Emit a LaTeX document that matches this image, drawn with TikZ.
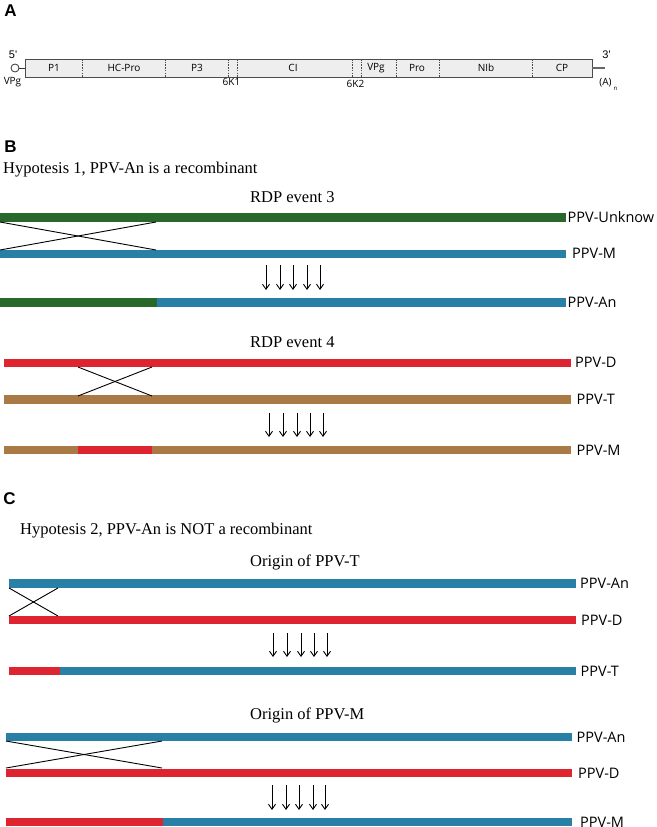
\documentclass[tikz,border=0pt]{standalone}
\usepackage{fontspec}
\setmainfont{Liberation Serif}
\newfontfamily\labfont{Open Sans}
\newfontfamily\panfont{Liberation Sans}
\usetikzlibrary{arrows.meta}

\definecolor{ppvgreen}{RGB}{40,104,42}
\definecolor{ppvblue}{RGB}{41,128,166}
\definecolor{ppvred}{RGB}{222,36,48}
\definecolor{ppvbrown}{RGB}{170,122,70}
\definecolor{genefill}{RGB}{238,238,238}

\tikzset{
  panel/.style={font=\panfont\bfseries\fontsize{17}{19}\selectfont,inner sep=0},
  gene/.style={font=\labfont\fontsize{10}{12}\selectfont,inner sep=0},
  title/.style={font=\fontsize{16.5}{19}\selectfont,anchor=west,inner sep=0},
  seqlab/.style={font=\labfont\fontsize{14.5}{17}\selectfont,anchor=west,inner sep=0},
  seq/.style={line width=8.5pt},
  xover/.style={draw=black,line width=0.9pt},
  down/.style={->,>={Straight Barb[length=5pt,width=7pt]},line width=0.9pt}
}

\begin{document}
\begin{tikzpicture}[x=1pt,y=-1pt]
\useasboundingbox (0,0) rectangle (656,827);

% A: genome map
\node (letA) at (10.5,11) [panel] {A};
\node (genome) at (308.5,68) [rectangle,draw=black!70,fill=genefill,line width=0.8pt,
    minimum width=567pt,minimum height=18pt,inner sep=0] {};
\foreach \x in {82,165,228,237,352,361,396,439,532}
    \draw [black!70,dash pattern=on 1.5pt off 1.2pt,line width=0.7pt] (\x,59) -- (\x,77);
\foreach \x/\name in {54/P1,124/HC-Pro,197/P3,293/CI,376/VPg,417/Pro,486/NIb,562/CP}
    \node (g-\name) at (\x,68) [gene] {\name};
\node (vpgcirc) at (15,68) [circle,draw=black!80,line width=0.8pt,minimum size=8pt,inner sep=0] {};
\draw [black!80,line width=1pt] (vpgcirc) -- (genome.west);
\coordinate (tailend) at (605,68);
\draw [black!60,line width=2.5pt] (genome.east) -- (tailend);
\node (five) at (13,55) [gene,font=\panfont\fontsize{11}{13}\selectfont] {5'};
\node (vpg) at (12.5,82) [gene] {VPg};
\node (k1) at (231.5,82) [gene] {6K1};
\node (k2) at (355.5,84) [gene] {6K2};
\node (three) at (606.5,55) [gene,font=\panfont\fontsize{11}{13}\selectfont] {3'};
\node (polyA) at (605.5,83) [gene] {(A)};
\node (polyn) at (615.5,88.5) [gene,font=\labfont\fontsize{6}{7}\selectfont] {n};

% B: hypothesis 1
\node (letB) at (10.5,146.5) [panel] {B};
\node (hyp1) at (3,170) [title] {Hypotesis 1, PPV-An is a recombinant};

\node (ev3) at (250,197) [title] {RDP event 3};
\draw [seq,ppvgreen] (0,217.5) -- (566,217.5);
\draw [seq,ppvblue] (0,254) -- (566,254);
\draw [xover] (0,222) -- (156,250);
\draw [xover] (0,250) -- (156,222);
\foreach \x in {266,280,293,307,320}
    \draw [down] (\x,265) -- (\x,290);
\draw [seq,ppvgreen] (0,302.5) -- (157,302.5);
\draw [seq,ppvblue] (157,302.5) -- (566,302.5);
\node (unk) at (567.5,217) [seqlab] {PPV-Unknow};
\node (m1) at (572,253) [seqlab] {PPV-M};
\node (an1) at (567.5,302) [seqlab] {PPV-An};

\node (ev4) at (250,342.5) [title] {RDP event 4};
\draw [seq,ppvred] (4,363) -- (571,363);
\draw [seq,ppvbrown] (4,399.5) -- (571,399.5);
\draw [xover] (78,367) -- (152,396);
\draw [xover] (78,396) -- (152,367);
\foreach \x in {269,283,297,310,323}
    \draw [down] (\x,413) -- (\x,437);
\draw [seq,ppvbrown] (4,450) -- (78,450);
\draw [seq,ppvred] (78,450) -- (152,450);
\draw [seq,ppvbrown] (152,450) -- (571,450);
\node (d1) at (575,362) [seqlab] {PPV-D};
\node (t1) at (576.5,399) [seqlab] {PPV-T};
\node (m2) at (576.5,450) [seqlab] {PPV-M};

% C: hypothesis 2
\node (letC) at (9.5,499) [panel] {C};
\node (hyp2) at (20,531) [title] {Hypotesis 2, PPV-An is NOT a recombinant};

\node (orT) at (250,562) [title] {Origin of PPV-T};
\draw [seq,ppvblue] (9,583.5) -- (576,583.5);
\draw [seq,ppvred] (9,620) -- (576,620);
\draw [xover] (9,588) -- (58,616);
\draw [xover] (9,616) -- (58,588);
\foreach \x in {273,287,301,314,327}
    \draw [down] (\x,633) -- (\x,657);
\draw [seq,ppvred] (9,671) -- (60,671);
\draw [seq,ppvblue] (60,671) -- (576,671);
\node (an2) at (580,583) [seqlab] {PPV-An};
\node (d2) at (581,620) [seqlab] {PPV-D};
\node (t2) at (580.5,671) [seqlab] {PPV-T};

\node (orM) at (250,715) [title] {Origin of PPV-M};
\draw [seq,ppvblue] (6,737) -- (572,737);
\draw [seq,ppvred] (6,773) -- (572,773);
\draw [xover] (6,741) -- (162,768);
\draw [xover] (6,768) -- (162,741);
\foreach \x in {272,286,299,313,325}
    \draw [down] (\x,785) -- (\x,810);
\draw [seq,ppvred] (6,822) -- (163,822);
\draw [seq,ppvblue] (163,822) -- (572,822);
\node (an3) at (576.5,737) [seqlab] {PPV-An};
\node (d3) at (578,773) [seqlab] {PPV-D};
\node (m3) at (580,822) [seqlab] {PPV-M};
\end{tikzpicture}
\end{document}
